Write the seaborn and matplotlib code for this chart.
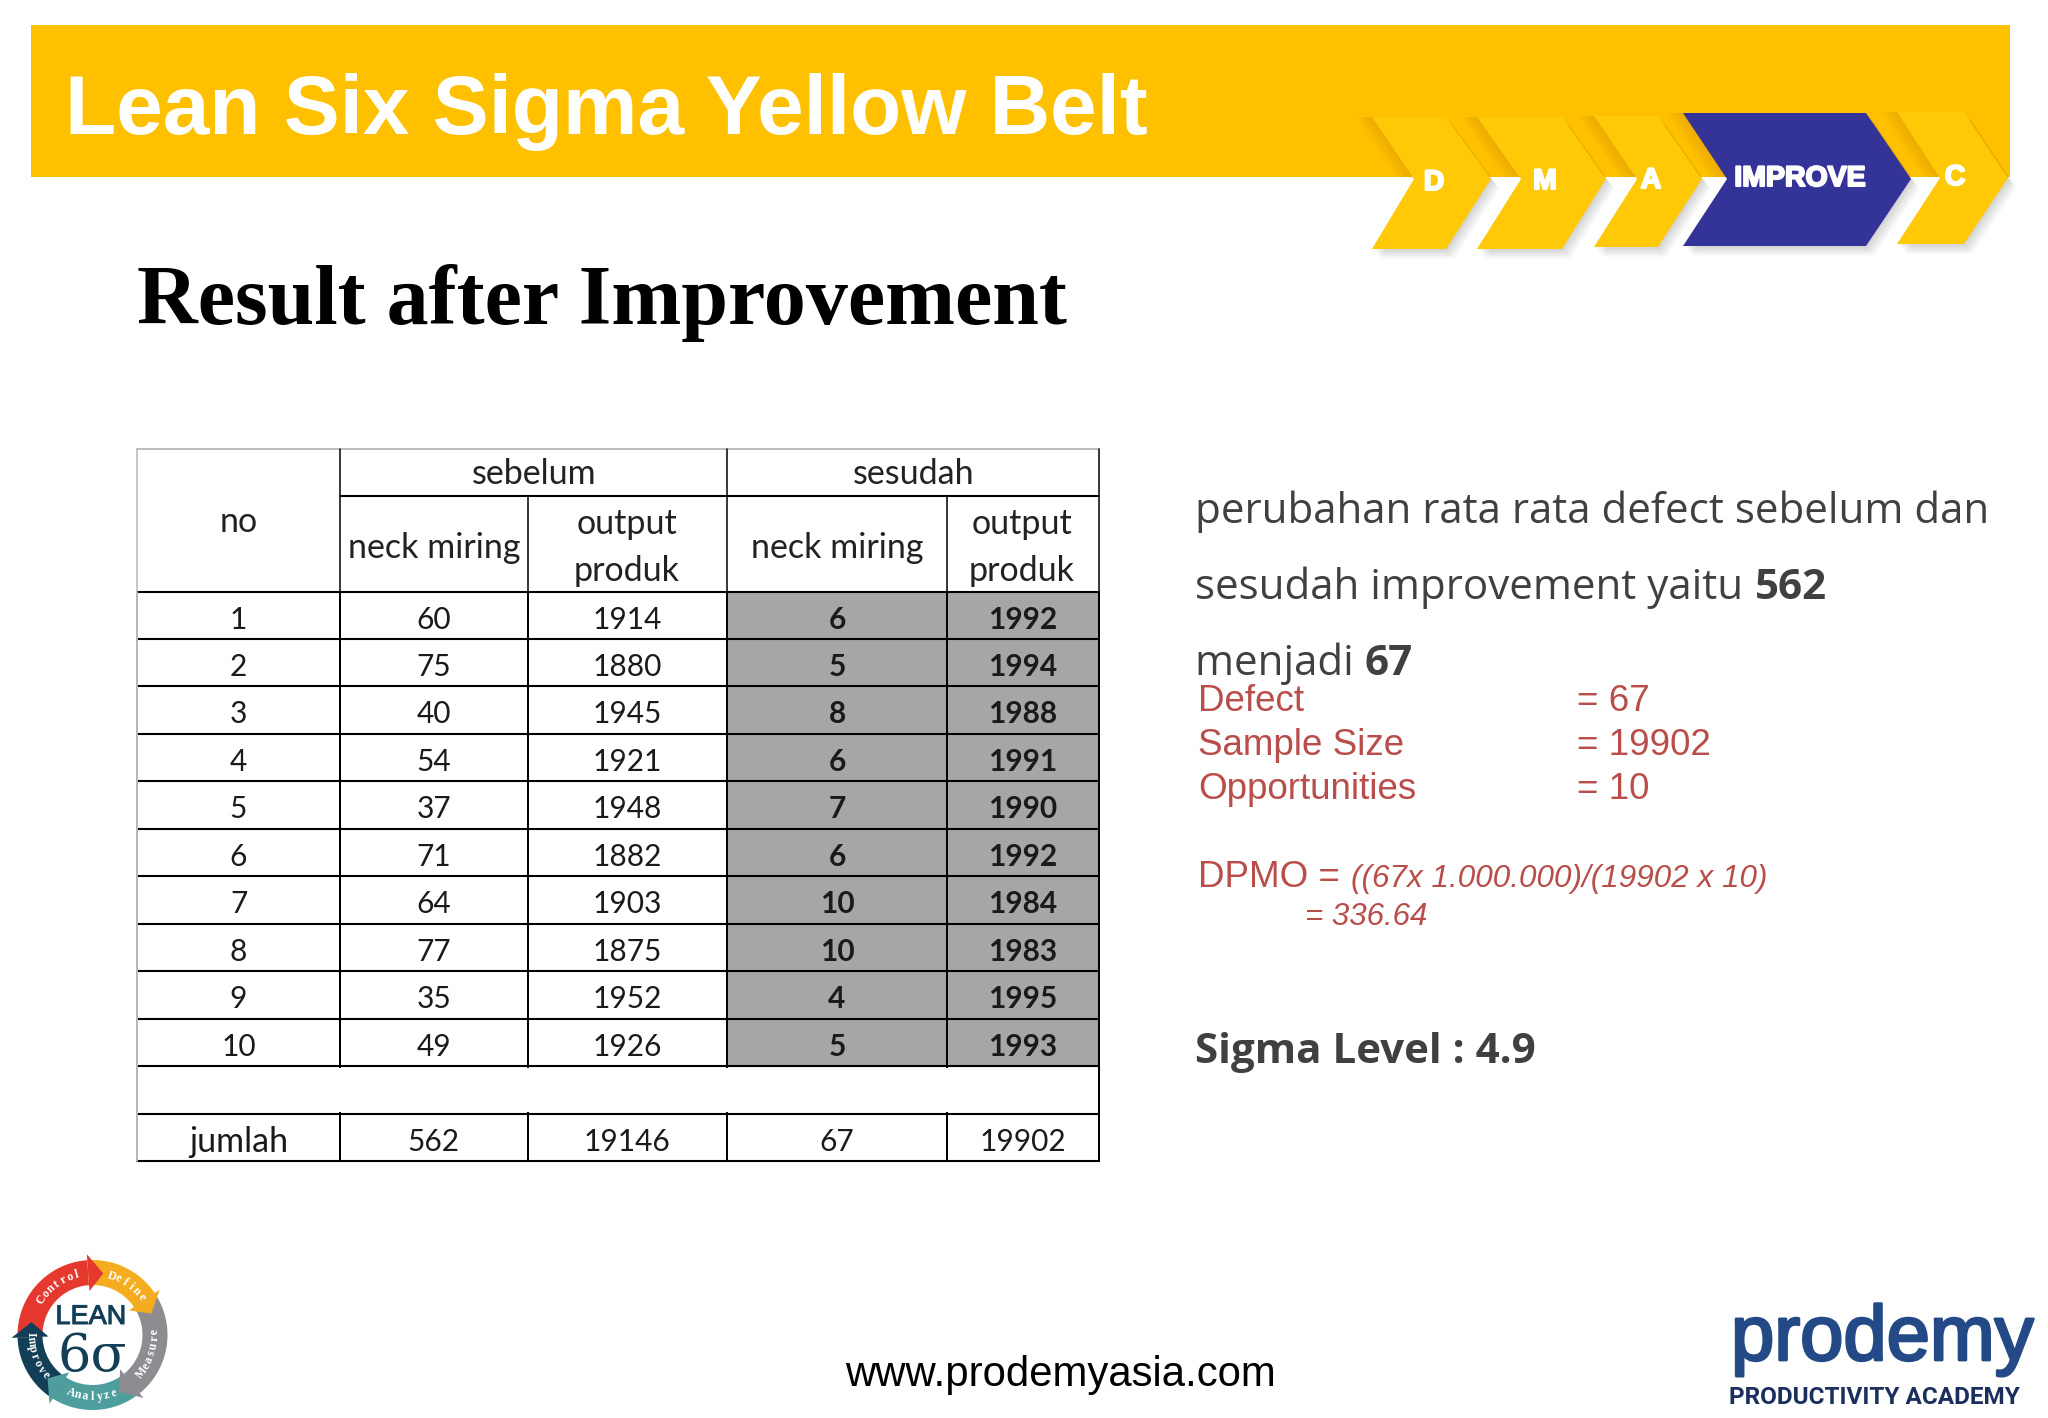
import numpy as np
import matplotlib
matplotlib.use('Agg')
import matplotlib.pyplot as plt
import matplotlib.patheffects as pe
import seaborn as sns
from matplotlib.colors import ListedColormap
from matplotlib.patches import Polygon, Rectangle

W, H = 2048, 1418

# table values
row_no = ['1', '2', '3', '4', '5', '6', '7', '8', '9', '10', '', 'jumlah']
before_neck = [60, 75, 40, 54, 37, 71, 64, 77, 35, 49]
before_output = [1914, 1880, 1945, 1921, 1948, 1882, 1903, 1875, 1952, 1926]
after_neck = [6, 5, 8, 6, 7, 6, 10, 10, 4, 5]
after_output = [1992, 1994, 1988, 1991, 1990, 1992, 1984, 1983, 1995, 1993]
total_before_neck = 562
total_before_output = 19146
total_after_neck = 67
total_after_output = 19902

# column edges of the table, in pixels
col_edges = [137, 340, 527.5, 727, 947, 1099]
table_top = 591.5
table_bottom = 1161

steps = ['D', 'M', 'A', 'IMPROVE', 'C']
logo_segments = ['Control', 'Define', 'Measure', 'Analyze', 'Improve']

YELLOW = '#FFC000'
CHEVRON = '#FFC907'
BLUE = '#343397'
RED = '#B84D4A'
GREY = '#404040'
NAVY = '#123F57'

sns.set_theme(style='white')
plt.rcParams['font.family'] = ['Liberation Sans', 'DejaVu Sans']

fig = plt.figure(figsize=(W / 100, H / 100), dpi=100, facecolor='white')
page = fig.add_axes([0, 0, 1, 1])
page.set_xlim(0, W)
page.set_ylim(H, 0)
page.axis('off')

# banner
banner = Rectangle((31, 25), 1979, 152, color=YELLOW, lw=0, zorder=1)
page.add_patch(banner)
page.text(65, 134, 'Lean Six Sigma Yellow Belt', color='white', fontsize=60.3,
          fontweight='bold', va='baseline', zorder=2)


def chevron(x0, x1, inner, tip, top, bottom, mid, color):
    pts = np.array([[x0, top], [x1, top], [tip, mid], [x1, bottom], [x0, bottom], [inner, mid]])
    # soft shadow, a few stacked copies
    for i in range(1, 8):
        page.add_patch(Polygon(pts + [i * 1.2, i * 1.4], color='black', alpha=0.022, lw=0, zorder=3))
    # the banner also darkens on the left of each chevron
    for i in range(1, 9):
        glow = Polygon(pts + [-i * 2, 0], color='#B87A00', alpha=0.03, lw=0, zorder=3)
        page.add_patch(glow)
        glow.set_clip_path(banner)
    page.add_patch(Polygon(pts, color=color, lw=0, zorder=4))


chevron(1372, 1446, 1414, 1491, 117, 249, 179, CHEVRON)
chevron(1477, 1562, 1521, 1606, 117, 249, 179, CHEVRON)
chevron(1594, 1658, 1637, 1702, 116, 247, 179, CHEVRON)
chevron(1683, 1866, 1727, 1911, 113, 246, 179, BLUE)
chevron(1897, 1964, 1940, 2008, 112, 244, 178, CHEVRON)

step_x = [1434, 1545, 1651, 1800, 1955]
step_y = [183, 182, 181, 179, 178]
for s, sx, sy in zip(steps, step_x, step_y):
    page.text(sx, sy, s, color='white', fontsize=20.5, fontweight='bold', ha='center', va='center', zorder=5,
              path_effects=[pe.withStroke(linewidth=1.5, foreground='white')])

page.text(137, 324, 'Result after Improvement', family='Liberation Serif', fontweight='bold',
          fontsize=60.5, color='black', va='baseline')

# table header, merged cells are easier to draw by hand
hdr = dict(family='Lato', fontsize=24.5, color='#222222', ha='center', va='center')
page.text(534, 474, 'sebelum', **hdr)
page.text(914, 474, 'sesudah', **hdr)
page.text(239, 522, 'no', **hdr)
page.text(434, 548, 'neck miring', **hdr)
page.text(837, 548, 'neck miring', **hdr)
page.text(627, 524, 'output', **hdr)
page.text(627, 571, 'produk', **hdr)
page.text(1022, 524, 'output', **hdr)
page.text(1022, 571, 'produk', **hdr)
page.plot([340, 1099], [496, 496], color='black', lw=1.5)
page.plot([137, 1099], [449, 449], color='#bdbdbd', lw=1.4)
for x, y0 in zip(col_edges[1:], [449, 496, 449, 496, 449]):
    page.plot([x, x], [y0, table_top], color='black', lw=1.1)
page.plot([137, 137], [449, table_top], color='#bdbdbd', lw=1.2)

# table body, one heatmap per column because the widths differ
columns = [
    (row_no, 0),
    ([str(v) for v in before_neck] + ['', str(total_before_neck)], 0),
    ([str(v) for v in before_output] + ['', str(total_before_output)], 0),
    ([str(v) for v in after_neck] + ['', str(total_after_neck)], 1),
    ([str(v) for v in after_output] + ['', str(total_after_output)], 1),
]
cell_cmap = ListedColormap(['white', '#A7A5A5'])
for i, (labels, shaded) in enumerate(columns):
    x0, x1 = col_edges[i], col_edges[i + 1]
    tax = fig.add_axes([x0 / W, 1 - table_bottom / H, (x1 - x0) / W, (table_bottom - table_top) / H])
    flags = np.array([[shaded]] * 10 + [[0], [0]])
    sns.heatmap(flags, annot=np.array(labels).reshape(-1, 1), fmt='', cmap=cell_cmap, vmin=0, vmax=1,
                cbar=False, linewidths=1.2, linecolor='black', xticklabels=False, yticklabels=False, ax=tax,
                annot_kws=dict(family='Lato', fontsize=21.5, color='#1a1a1a',
                               fontweight='bold' if shaded else 'normal'))
    tax.collections[0].set_clip_on(False)
    for t in tax.texts:
        # annotations sit a little low in the reference cells
        tx, ty = t.get_position()
        t.set_position((tx, ty + 0.09))
        if t.get_text() == str(total_after_neck) or t.get_text() == str(total_after_output):
            t.set_fontweight('normal')
        if t.get_text() == 'jumlah':
            t.set_fontsize(24.5)

# the blank row is one merged cell, left edge is a thin grey line
over = fig.add_axes([0, 0, 1, 1], zorder=5)
over.set_xlim(0, W)
over.set_ylim(H, 0)
over.axis('off')
row_h = (table_bottom - table_top) / 12
over.add_patch(Rectangle((138, table_top + 10 * row_h + 1.5), 960, row_h - 3, color='white', lw=0))
# horizontal rules are heavier than the vertical ones
for r in range(13):
    over.plot([137, 1099], [table_top + r * row_h] * 2, color='black', lw=1.5, solid_capstyle='butt')
over.plot([137, 137], [table_top, table_bottom], color='#bdbdbd', lw=1.4)

# text on the right
body = dict(family='Open Sans', fontsize=30.3, color=GREY, va='baseline')
page.text(1195, 523, 'perubahan rata rata defect sebelum dan', **body)
page.text(1195, 599, 'sesudah improvement yaitu ', **body)
page.text(1755, 599, '562', fontweight='bold', **body)
page.text(1195, 675, 'menjadi ', **body)
page.text(1365, 675, '67', fontweight='bold', **body)
page.text(1195, 1063, 'Sigma Level : 4.9', fontweight='bold', **body)

red = dict(fontsize=26.5, color=RED, va='baseline')
page.text(1198, 711, 'Defect', **red)
page.text(1198, 755, 'Sample Size', **red)
page.text(1198, 799, 'Opportunities', **red)
page.text(1577, 711, '= 67', **red)
page.text(1577, 755, '= 19902', **red)
page.text(1577, 799, '= 10', **red)
page.text(1198, 887, 'DPMO =', **red)
page.text(1351, 887, '((67x 1.000.000)/(19902 x 10)', fontsize=22.6, style='italic', color=RED, va='baseline')
page.text(1305, 925, '= 336.64', fontsize=22.5, style='italic', color=RED, va='baseline')

page.text(845, 1386, 'www.prodemyasia.com', fontsize=30.2, color='black', va='baseline')

# prodemy logo
page.text(1731, 1360, 'prodemy', fontsize=56, color='#234A86', va='baseline',
          path_effects=[pe.withStroke(linewidth=2, foreground='#234A86')])
page.text(1729, 1404, 'PRODUCTIVITY ACADEMY', family='Roboto', fontsize=17.5,
          fontweight='bold', color='#1B2F5E', va='baseline')

# lean six sigma logo
cx, cy = 92.5, 1335
r_in, r_out = 50, 75
HEAD = 14


def polar(r, a):
    return [cx + r * np.cos(np.radians(a)), cy - r * np.sin(np.radians(a))]


def ring_body(a0, a1, color):
    ang = np.linspace(a0 + HEAD, a1 + HEAD, 30)
    outer = [polar(r_out, a) for a in ang]
    inner = [polar(r_in, a) for a in ang[::-1]]
    page.add_patch(Polygon(outer + inner, color=color, lw=0, zorder=3))


def ring_head(a1, color):
    pts = [polar(r_out + 6, a1 + HEAD), polar((r_in + r_out) / 2, a1), polar(r_in - 6, a1 + HEAD)]
    page.add_patch(Polygon(pts, color=color, lw=0, zorder=4))


def arc_label(text, mid, clockwise):
    step = 6.8 if clockwise else -6.8
    start = mid + step * (len(text) - 1) / 2
    for k, ch in enumerate(text):
        a = start - step * k
        rot = a - 90 if clockwise else a + 90
        x, y = polar(62, a)
        page.text(x, y, ch, color='white', family='Liberation Serif', fontweight='bold', fontsize=8.5,
                  rotation=rot, ha='center', va='center', rotation_mode='anchor', zorder=6)


segments = [(168, 80, '#E5392F'), (80, 20, '#F5AC1E'), (20, -65, '#8E8C90'),
            (-65, -136, '#4F9E9E'), (-136, -192, NAVY)]
for a0, a1, c in segments:
    ring_body(a0, a1, c)
for a0, a1, c in segments:
    ring_head(a1, c)
arc_label(logo_segments[0], 125, True)
arc_label(logo_segments[1], 55, True)
arc_label(logo_segments[2], -17, False)
arc_label(logo_segments[3], -90, False)
arc_label(logo_segments[4], 200, False)
page.text(91, 1317, 'LEAN', fontsize=19.5, color=NAVY, ha='center', va='center', zorder=6,
          path_effects=[pe.withStroke(linewidth=0.7, foreground=NAVY)])
page.text(92, 1357, '6σ', family='DejaVu Serif', fontsize=38, color=NAVY, ha='center', va='center', zorder=6)

fig.savefig('out.png', dpi=100, facecolor='white')
